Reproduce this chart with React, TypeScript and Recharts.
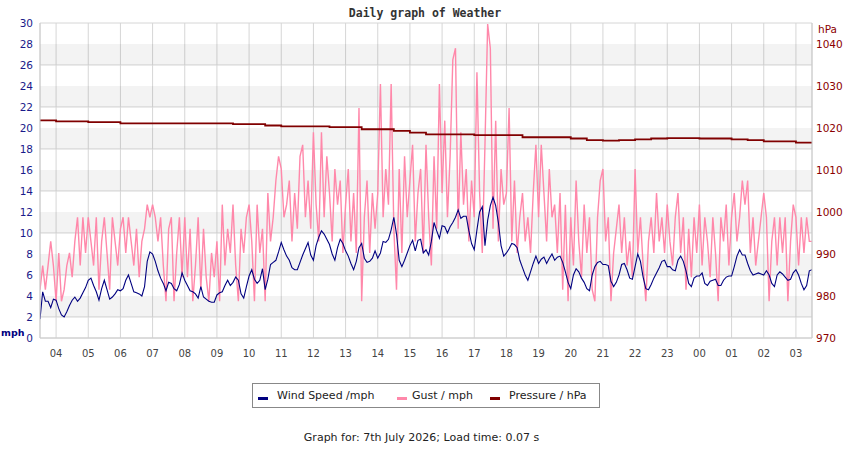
import React from 'react';
import { LineChart, Line, XAxis, YAxis, CartesianGrid, ReferenceArea } from 'recharts';

// hour labels on the x axis, 04:00 today to 03:00 tomorrow
const hourLabels = ['04', '05', '06', '07', '08', '09', '10', '11', '12', '13', '14', '15', '16', '17', '18', '19', '20', '21', '22', '23', '00', '01', '02', '03'];
const mphTicks = [0, 2, 4, 6, 8, 10, 12, 14, 16, 18, 20, 22, 24, 26, 28, 30];
const hpaTicks = [970, 980, 990, 1000, 1010, 1020, 1030, 1040];

// wind speed, mph, every 5 min from 03:30
const windSpeed = [
  1.8, 4.4, 3.5, 3.5, 2.9, 3.7,
  3.6, 2.8, 2.2, 2.0, 2.5, 3.1, 3.6, 3.9, 3.5, 3.8, 4.3, 4.8,
  5.5, 5.7, 5.0, 4.4, 3.6, 4.7, 5.5, 4.6, 3.7, 3.9, 4.2, 4.6,
  4.5, 4.7, 5.5, 6.0, 5.2, 4.4, 4.3, 4.2, 4.0, 4.9, 7.3, 8.2,
  8.0, 7.3, 6.4, 5.7, 5.2, 4.5, 5.3, 5.2, 4.7, 4.5, 5.1, 6.2,
  5.5, 5.0, 4.5, 4.4, 4.2, 3.8, 4.9, 3.9, 3.7, 3.5, 3.4, 3.4,
  4.1, 4.3, 4.4, 5.0, 5.5, 5.0, 5.3, 5.8, 5.5, 4.2, 3.8, 4.9,
  5.9, 6.5, 5.6, 5.2, 5.5, 6.6, 4.6, 5.6, 7.0, 7.2, 7.4, 8.2,
  9.1, 8.4, 7.8, 7.4, 6.7, 6.5, 6.5, 7.2, 7.9, 8.5, 9.1, 7.9,
  7.4, 8.8, 9.6, 10.2, 9.9, 9.4, 8.9, 8.0, 7.4, 8.6, 9.4, 9.0,
  8.3, 7.8, 7.1, 6.5, 7.3, 8.6, 9.0, 7.6, 7.2, 7.3, 7.6, 8.3,
  7.6, 8.1, 9.2, 9.1, 9.4, 10.3, 11.5, 9.9, 7.4, 6.8, 7.4, 8.1,
  8.8, 9.3, 8.3, 9.3, 9.4, 8.1, 8.4, 7.9, 9.2, 11.0, 10.2, 9.5,
  10.7, 10.6, 10.0, 10.6, 11.0, 11.5, 12.2, 11.4, 11.6, 11.6, 10.2, 9.0,
  8.4, 10.3, 12.0, 12.5, 8.8, 11.2, 12.6, 13.4, 12.6, 11.0, 8.8, 7.8,
  8.1, 8.5, 9.0, 8.9, 8.6, 7.4, 6.7, 6.0, 5.5, 6.3, 7.1, 7.8,
  7.1, 7.5, 7.7, 7.1, 7.6, 8.0, 7.4, 7.7, 7.8, 7.2, 6.3, 5.3,
  4.7, 6.0, 6.6, 6.3, 5.7, 5.3, 4.7, 4.5, 6.0, 6.8, 7.2, 7.3,
  7.0, 7.0, 6.9, 5.4, 4.9, 5.3, 6.0, 7.0, 7.1, 6.5, 5.7, 5.6,
  6.8, 8.0, 7.3, 5.8, 4.7, 4.6, 5.1, 5.7, 6.2, 6.7, 7.3, 7.4,
  6.8, 6.8, 6.5, 6.4, 7.4, 7.8, 7.3, 6.4, 5.2, 4.9, 5.7, 5.9,
  5.9, 6.2, 5.2, 5.0, 5.4, 5.5, 5.6, 5.0, 5.0, 5.5, 5.8, 5.9,
  5.9, 6.8, 7.8, 8.4, 7.9, 7.9, 7.1, 6.4, 6.0, 6.1, 6.2, 6.1,
  6.0, 6.4, 6.0, 5.2, 4.9, 6.0, 6.3, 6.1, 5.8, 5.5, 5.6, 6.2,
  6.5, 6.0, 5.2, 4.6, 5.0, 6.4, 6.5,
];

// gust, mph, every 5 min from 03:30
const gust = [
  4.6, 6.9, 4.6, 6.9, 9.2, 6.9,
  3.5, 8.1, 3.5, 4.6, 6.9, 8.1, 5.8, 9.2, 11.5, 6.9, 11.5, 8.1,
  11.5, 9.2, 6.9, 11.5, 4.6, 9.2, 11.5, 8.1, 4.6, 11.5, 9.2, 6.9,
  10.4, 11.5, 8.1, 11.5, 9.2, 6.9, 10.4, 5.8, 9.2, 10.4, 12.7, 11.5,
  12.7, 11.5, 9.2, 11.5, 6.9, 3.5, 10.4, 11.5, 3.5, 8.1, 11.5, 5.8,
  11.5, 5.8, 10.4, 3.5, 6.9, 11.5, 4.6, 10.4, 5.8, 3.5, 8.1, 5.8,
  9.2, 3.5, 12.7, 6.9, 10.4, 8.1, 12.7, 6.9, 3.5, 10.4, 8.1, 11.5,
  12.7, 9.2, 3.5, 12.7, 8.1, 10.4, 3.5, 13.8, 9.2, 11.5, 15.0, 17.3,
  16.1, 11.5, 12.7, 15.0, 9.2, 13.8, 10.4, 17.3, 18.4, 11.5, 15.0, 10.4,
  19.6, 12.7, 9.2, 19.6, 11.5, 17.3, 13.8, 9.2, 16.1, 12.7, 15.0, 8.1,
  12.7, 16.1, 9.2, 13.8, 8.1, 21.9, 3.5, 11.5, 15.0, 8.1, 13.8, 10.4,
  13.8, 24.2, 11.5, 16.1, 12.7, 24.2, 10.4, 4.6, 16.1, 8.1, 17.3, 11.5,
  15.0, 18.4, 9.2, 13.8, 16.1, 8.1, 18.4, 11.5, 6.9, 17.3, 10.4, 24.2,
  13.8, 20.7, 11.5, 17.3, 26.5, 27.6, 10.4, 19.6, 12.7, 16.1, 9.2, 15.0,
  11.5, 25.3, 13.8, 8.1, 18.4, 29.9, 27.6, 10.4, 20.7, 9.2, 16.1, 12.7,
  13.8, 21.9, 9.2, 15.0, 8.1, 11.5, 13.8, 9.2, 11.5, 8.1, 13.8, 18.4,
  11.5, 18.4, 13.8, 9.2, 16.1, 11.5, 12.7, 8.1, 13.8, 4.6, 12.7, 3.5,
  11.5, 6.9, 15.0, 9.2, 5.8, 12.7, 8.1, 11.5, 4.6, 3.5, 11.5, 15.0,
  16.1, 9.2, 11.5, 3.5, 8.1, 10.4, 12.7, 8.1, 11.5, 6.9, 9.2, 5.8,
  16.1, 8.1, 11.5, 6.9, 3.5, 9.2, 11.5, 8.1, 13.8, 9.2, 11.5, 8.1,
  12.7, 9.2, 6.9, 11.5, 13.8, 8.1, 11.5, 4.6, 10.4, 5.8, 11.5, 8.1,
  12.7, 6.9, 11.5, 9.2, 5.8, 11.5, 8.1, 3.5, 11.5, 9.2, 12.7, 6.9,
  11.5, 13.8, 9.2, 11.5, 15.0, 12.7, 15.0, 8.1, 11.5, 6.9, 9.2, 11.5,
  13.8, 11.5, 3.5, 9.2, 11.5, 6.9, 11.5, 8.1, 11.5, 3.5, 9.2, 12.7,
  11.5, 6.9, 11.5, 8.1, 11.5, 9.2, 9.2,
];

// pressure, hPa, every 30 min from 03:30
const pressure = [
  1021.8, 1021.6, 1021.6, 1021.4, 1021.4, 1021.1, 1021.1, 1021.1, 1021.1, 1021.1,
  1021.1, 1021.1, 1020.9, 1020.9, 1020.6, 1020.4, 1020.4, 1020.4, 1020.2, 1020.2,
  1019.7, 1019.7, 1019.3, 1018.9, 1018.5, 1018.5, 1018.5, 1018.3, 1018.3, 1018.3,
  1017.8, 1017.8, 1017.8, 1017.5, 1017.1, 1017.0, 1017.1, 1017.3, 1017.5, 1017.6,
  1017.6, 1017.5, 1017.5, 1017.3, 1017.1, 1016.8, 1016.8, 1016.5, 1016.4,
];

const data = gust.map((g, i) => ({
  t: 3.5 + i / 12,
  gust: g,
  wind: windSpeed[i],
  pressure: i % 6 === 0 ? pressure[i / 6] : null,
}));

const hourTicks = hourLabels.map((_, i) => 4 + i);
const bandStarts = mphTicks.filter((v) => v % 4 === 2);
const font = 'DejaVu Sans';

const legendItems = [
  { label: 'Wind Speed /mph', color: '#000080', dash: 5, text: 24 },
  { label: 'Gust / mph', color: '#ff88aa', dash: 144, text: 159 },
  { label: 'Pressure / hPa', color: '#800000', dash: 237, text: 256 },
];

export default function App() {
  return (
    <div style={{ position: 'absolute', left: 0, top: 0, width: 850, height: 450, fontFamily: font, background: '#fff' }}>
      <div style={{ position: 'absolute', left: 0, top: 5, width: 850, textAlign: 'center', fontFamily: 'DejaVu Sans Mono', fontWeight: 'bold', fontSize: 11.5, color: '#333', lineHeight: '16px' }}>
        Daily graph of Weather
      </div>
      <LineChart width={850} height={450} data={data} margin={{ top: 23, right: 0, bottom: 82, left: 0 }}>
        <CartesianGrid yAxisId="mph" stroke="#d6d6d6" />
        {bandStarts.map((b) => (
          <ReferenceArea key={b} yAxisId="mph" y1={b} y2={b + 2} fill="#000000" fillOpacity={0.047} stroke="none" />
        ))}
        <XAxis
          dataKey="t"
          type="number"
          domain={[3.5, 27.5]}
          ticks={hourTicks}
          tickFormatter={(v: number) => hourLabels[v - 4]}
          tickLine={false}
          tickSize={0}
          tickMargin={12}
          height={30}
          stroke="#cccccc"
          tick={{ fill: '#444', fontSize: 10, fontFamily: font }}
          allowDataOverflow
        />
        <YAxis
          yAxisId="mph"
          orientation="left"
          width={40}
          domain={[0, 30]}
          ticks={mphTicks}
          tickLine={false}
          tickSize={5}
          tickMargin={2}
          stroke="#cccccc"
          tick={{ fill: '#1a1a8a', fontSize: 10.5, fontFamily: font }}
          allowDataOverflow
        />
        <YAxis
          yAxisId="hpa"
          orientation="right"
          width={38}
          domain={[970, 1045]}
          ticks={hpaTicks}
          tickLine={false}
          tickSize={2}
          tickMargin={2}
          stroke="#cccccc"
          tick={{ fill: '#8b0000', fontSize: 10.5, fontFamily: font }}
          allowDataOverflow
        />
        <Line yAxisId="mph" dataKey="gust" type="linear" stroke="#ff88aa" strokeWidth={1.4} dot={false} isAnimationActive={false} />
        <Line yAxisId="mph" dataKey="wind" type="linear" stroke="#000080" strokeWidth={1.1} dot={false} isAnimationActive={false} />
        <Line yAxisId="hpa" dataKey="pressure" type="stepAfter" stroke="#800000" strokeWidth={1.8} dot={false} connectNulls isAnimationActive={false} />
      </LineChart>
      <div style={{ position: 'absolute', left: 818, top: 22, fontSize: 10.5, color: '#8b0000', lineHeight: '14px' }}>hPa</div>
      <div style={{ position: 'absolute', left: 1, top: 327, fontSize: 9.5, fontWeight: 'bold', color: '#000080', lineHeight: '12px' }}>mph</div>
      <div style={{ position: 'absolute', left: 252, top: 383, width: 346, height: 23, border: '1px solid #888', boxSizing: 'content-box', fontSize: 11, color: '#222' }}>
        {legendItems.map((it) => (
          <React.Fragment key={it.label}>
            <span style={{ position: 'absolute', left: it.dash, top: 13, width: 10, height: 3, background: it.color }} />
            <span style={{ position: 'absolute', left: it.text, top: 5, lineHeight: '14px', whiteSpace: 'nowrap' }}>{it.label}</span>
          </React.Fragment>
        ))}
      </div>
      <div style={{ position: 'absolute', left: 0, top: 431, width: 843, textAlign: 'center', fontSize: 11, color: '#222', lineHeight: '14px' }}>
        Graph for: 7th July 2026; Load time: 0.07 s
      </div>
    </div>
  );
}
